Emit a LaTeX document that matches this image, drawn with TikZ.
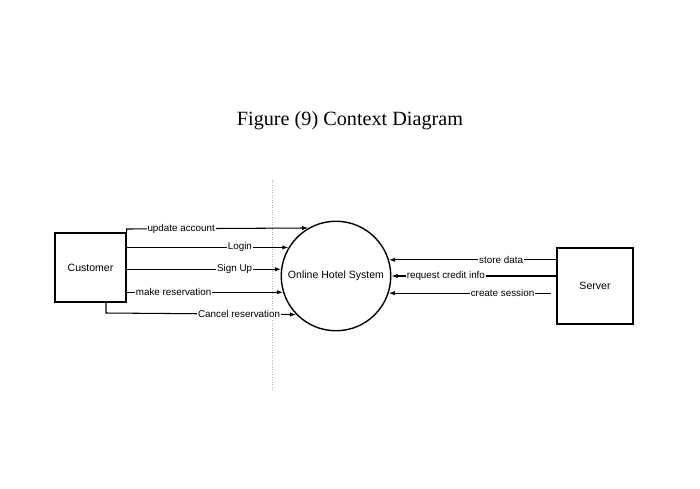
\documentclass[tikz,border=0pt]{standalone}
\usepackage{fontspec}
\setmainfont{Liberation Serif}
\newfontfamily\flowfont{Liberation Sans}
\usetikzlibrary{arrows.meta,positioning}

\tikzset{
  entity/.style={draw, thick, minimum width=1.42cm, minimum height=1.38cm, font=\flowfont\fontsize{6}{7}\selectfont},
  flow/.style={-{Latex[length=3.5pt,width=2.5pt]}, semithick},
  flowlabel/.style={fill=white, inner sep=0.5pt, font=\flowfont\fontsize{5.6}{6.5}\selectfont}
}

\begin{document}
\begin{tikzpicture}[x=0.02cm, y=-0.02cm]
   \useasboundingbox (0,0) rectangle (700,488);

   \node[font=\fontsize{11.5}{13}\selectfont] (title) at (350,121) {Figure (9) Context Diagram};
   \draw[gray!60, densely dotted] (272,180) coordinate (top) -- (272,390) coordinate (bottom);

   \node[entity] (cust) at (90.5,267.5) {Customer};
   \node[draw, thick, circle, minimum size=2.12cm, font=\flowfont\fontsize{6}{7}\selectfont] (ohs) at (336,276) {Online Hotel System};
   \node[entity, minimum width=1.52cm, minimum height=1.52cm] (srv) at (595,286) {Server};

   % customer flows
   \coordinate (ua) at (cust.east |- 0,229);
   \draw[flow] (cust.north east) -- (ua) -- (ohs.120) node[flowlabel, pos=0.3] {update account};
   \draw[flow] (ohs.149.4 -| cust.east) -- (ohs.149.4) node[flowlabel, pos=0.7] {Login};
   \draw[flow] (ohs.173.5 -| cust.east) -- (ohs.173.5) node[flowlabel, pos=0.7] {Sign Up};
   \draw[flow] (ohs.197.6 -| cust.east) -- (ohs.197.6) node[flowlabel, pos=0.3] {make reservation};
   \coordinate (cr) at (106,313);
   \draw[flow] (cr |- cust.south) -- (cr) -- (ohs.224.3) node[flowlabel, pos=0.7] {Cancel reservation};

   % server flows
   \draw[flow] (ohs.17.6 -| srv.west) -- (ohs.17.6) node[flowlabel, pos=0.33] {store data};
   \draw[flow] (ohs.0 -| srv.west) -- (ohs.0) node[flowlabel, pos=0.67] {request credit info};
   \draw[flow] (ohs.342.4 -| srv.west) ++(-5,0) -- (ohs.342.4) node[flowlabel, pos=0.3] {create session};
\end{tikzpicture}
\end{document}
